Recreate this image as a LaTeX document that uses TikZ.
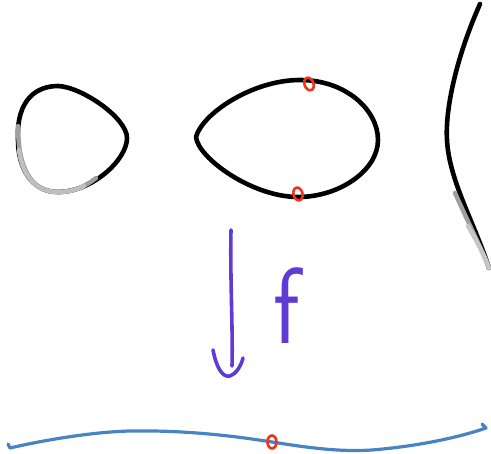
\documentclass[tikz,border=0pt]{standalone}
\usetikzlibrary{shapes.geometric}
\definecolor{inkpurple}{RGB}{96,58,212}
\definecolor{inkblue}{RGB}{72,132,196}
\definecolor{inkred}{RGB}{236,52,30}
\begin{document}
\begin{tikzpicture}[
    x=1pt, y=-1pt,
    fibre line/.style={draw=black, line width=4.6pt, line cap=round, line join=round},
    faded line/.style={draw=gray!#1, line width=4.4pt, line cap=round},
    map line/.style={draw=inkpurple, line width=3.6pt, line cap=round, line join=round},
    base line/.style={draw=inkblue, line width=3.2pt, line cap=round, line join=round},
    red dot/.style={ellipse, draw=inkred, line width=2.6pt, inner sep=0pt, minimum width=9pt, minimum height=13pt}
]
\useasboundingbox (0,0) rectangle (491,454);

% Fibre above: two ovals and an open branch
\draw[fibre line] (18,140) .. controls (16,98) and (38,86) .. (58,86)
    .. controls (82,87) and (127,118) .. (127,138)
    .. controls (127,160) and (92,192) .. (58,192)
    .. controls (30,192) and (18,166) .. (18,140) -- cycle;
\draw[faded line=75] (18,126) .. controls (18,166) and (30,192) .. (58,192)
    .. controls (74,192) and (86,186) .. (96,178);
\draw[faded line=50] (19,150) .. controls (22,176) and (36,192) .. (58,192)
    .. controls (68,192) and (76,190) .. (84,186);
\draw[fibre line] (196,137) .. controls (202,114) and (252,80) .. (300,80)
    .. controls (346,80) and (378,110) .. (378,140)
    .. controls (378,170) and (340,197) .. (298,197)
    .. controls (252,197) and (198,158) .. (196,137) -- cycle;
\draw[fibre line] (480,4) .. controls (456,58) and (445,110) .. (447,140)
    .. controls (449,180) and (474,222) .. (489,268);
\draw[faded line=75] (455,193) .. controls (468,222) and (482,250) .. (489,268);
\draw[faded line=45] (468,226) .. controls (476,240) and (484,254) .. (489,268);

% Marked points
\node[red dot, rotate=20] (top mark) at (309,84) {};
\node[red dot, rotate=15] (bottom mark) at (298,194) {};

% The map f
\coordinate (map start) at (231,230);
\coordinate (map end) at (232,366);
\draw[map line] (map start) .. controls (230,280) and (233,330) .. (map end);
\draw[map line] (213,350) .. controls (216,366) and (222,378) .. (230,376)
    .. controls (236,374) and (241,366) .. (243,358);
\node[inkpurple, font=\sffamily\fontsize{108}{108}\selectfont, xscale=0.85, inner sep=0pt, anchor=center] (map label) at (287,306) {f};

% Base curve
\coordinate (base left) at (10,448);
\coordinate (base right) at (486,428);
\draw[base line] (8,444) -- (base left) .. controls (40,441) and (90,432) .. (130,431)
    .. controls (190,430) and (240,437) .. (272,442)
    .. controls (310,448) and (340,452) .. (372,450)
    .. controls (420,446) and (460,437) .. (base right) -- (482,424);
\node[red dot] (base mark) at (272,442) {};
\end{tikzpicture}
\end{document}
